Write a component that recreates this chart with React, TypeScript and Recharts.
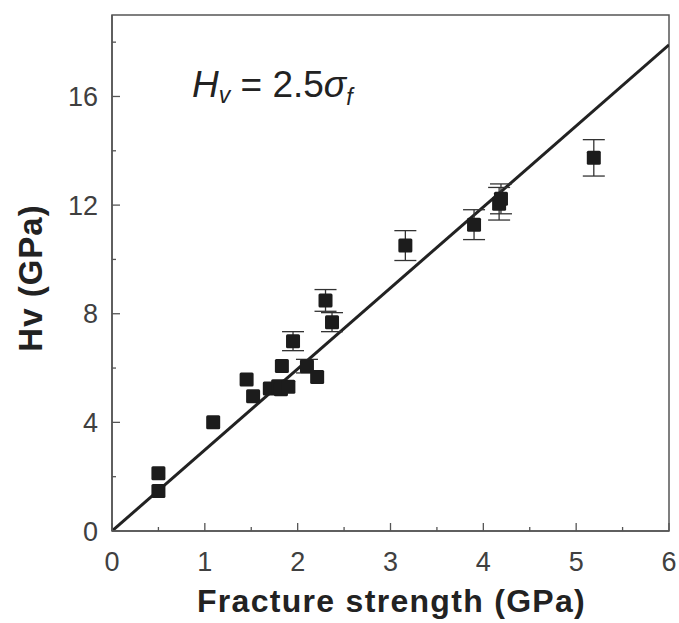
import React from "react"
import {
    ScatterChart,
    Scatter,
    XAxis,
    YAxis,
    ErrorBar,
    ReferenceLine,
    ReferenceArea,
    Label
} from "recharts"

// valores
const fractureStrength = [0.5, 0.5, 1.09, 1.45, 1.52, 1.7, 1.79, 1.82, 1.9, 1.83, 1.95, 2.1, 2.21, 2.3, 2.37, 3.16, 3.9, 4.17, 4.19, 5.19]
const hardness = [2.13, 1.47, 4.0, 5.58, 4.96, 5.25, 5.33, 5.22, 5.31, 6.08, 6.99, 6.07, 5.67, 8.49, 7.69, 10.51, 11.28, 12.05, 12.23, 13.74]
const hardnessErr = [0, 0, 0, 0, 0, 0, 0, 0, 0, 0, 0.35, 0.25, 0, 0.4, 0.35, 0.55, 0.55, 0.6, 0.55, 0.67]

const xTicks = [0, 0.5, 1, 1.5, 2, 2.5, 3, 3.5, 4, 4.5, 5, 5.5, 6]
const yTicks = [0, 2, 4, 6, 8, 10, 12, 14, 16, 18]
const xMajor = [0, 1, 2, 3, 4, 5, 6]
const yMajor = [0, 4, 8, 12, 16]

// reta desenhada na figura
const fitLine = [{ x: 0, y: 0 }, { x: 6, y: 17.9 }]

const dados = fractureStrength.map((x, i) => ({ x, y: hardness[i], err: hardnessErr[i] }))

const FONT = "'Liberation Sans', Arial, sans-serif"
const AXIS_COLOR = "#555"
const TEXT_COLOR = "#404040"

function XTick(props: any) {
    const { x, y, payload } = props
    const major = xMajor.includes(payload.value)
    return (
        <g>
            <line x1={x} x2={x} y1={y} y2={y - (major ? 8 : 4)} stroke={AXIS_COLOR} strokeWidth={1.3} />
            {major && (
                <text x={x} y={y + 40} textAnchor="middle" fontSize={27} fontFamily={FONT} fill={TEXT_COLOR}>
                    {payload.value}
                </text>
            )}
        </g>
    )
}

function YTick(props: any) {
    const { x, y, payload } = props
    const major = yMajor.includes(payload.value)
    return (
        <g>
            <line x1={x} x2={x + (major ? 8 : 4)} y1={y} y2={y} stroke={AXIS_COLOR} strokeWidth={1.3} />
            {major && (
                <text x={x - 14} y={y} dy="0.36em" textAnchor="end" fontSize={27} fontFamily={FONT} fill={TEXT_COLOR}>
                    {payload.value}
                </text>
            )}
        </g>
    )
}

function Marcador(props: any) {
    const { cx, cy } = props
    return <rect x={cx - 7} y={cy - 7} width={14} height={14} rx={1.5} fill="#1c1c1c" />
}

export default function App() {
    return (
        <div style={{ position: "relative", width: 679, height: 623 }}>
            <style>{"body { margin: 0; }"}</style>
            <ScatterChart width={679} height={623} margin={{ top: 15, right: 10, left: 0, bottom: 0 }}>
                <XAxis
                    type="number"
                    dataKey="x"
                    domain={[0, 6]}
                    ticks={xTicks}
                    interval={0}
                    height={92}
                    tickSize={0}
                    tickMargin={0}
                    tickLine={false}
                    tick={<XTick />}
                    axisLine={{ stroke: AXIS_COLOR, strokeWidth: 1.5 }}
                >
                    <Label
                        content={(p: any) => (
                            <text
                                x={p.viewBox.x + p.viewBox.width / 2 + 1}
                                y={612}
                                textAnchor="middle"
                                fontSize={32}
                                fontWeight="bold"
                                letterSpacing={1.3}
                                fontFamily={FONT}
                                fill="#222"
                            >
                                Fracture strength (GPa)
                            </text>
                        )}
                    />
                </XAxis>
                <YAxis
                    type="number"
                    dataKey="y"
                    domain={[0, 19]}
                    ticks={yTicks}
                    interval={0}
                    width={112}
                    tickSize={0}
                    tickMargin={0}
                    tickLine={false}
                    tick={<YTick />}
                    axisLine={{ stroke: AXIS_COLOR, strokeWidth: 1.5 }}
                >
                    <Label
                        content={(p: any) => {
                            const cy = p.viewBox.y + p.viewBox.height / 2 + 5
                            return (
                                <text
                                    x={42}
                                    y={cy}
                                    transform={`rotate(-90 42 ${cy})`}
                                    textAnchor="middle"
                                    fontSize={33}
                                    fontWeight="bold"
                                    letterSpacing={1}
                                    fontFamily={FONT}
                                    fill="#222"
                                >
                                    Hv (GPa)
                                </text>
                            )
                        }}
                    />
                </YAxis>

                {/* moldura */}
                <ReferenceArea x1={0} x2={6} y1={0} y2={19} fill="none" stroke={AXIS_COLOR} strokeWidth={1.5} ifOverflow="visible" />

                <ReferenceLine segment={fitLine} stroke="#222" strokeWidth={3} ifOverflow="hidden" />

                <Scatter data={dados} shape={<Marcador />} isAnimationActive={false}>
                    <ErrorBar dataKey="err" direction="y" width={11} stroke="#333" strokeWidth={1.3} />
                </Scatter>
            </ScatterChart>

            {/* anotação da equação */}
            <svg width={679} height={623} style={{ position: "absolute", left: 0, top: 0, pointerEvents: "none" }}>
                <text x={192} y={97} fontSize={37} fontFamily={FONT} fill="#222">
                    <tspan fontStyle="italic">H</tspan>
                    <tspan fontSize={23} fontStyle="italic" dy={6}>v</tspan>
                    <tspan dy={-6}> = 2.5</tspan>
                    <tspan fontStyle="italic">σ</tspan>
                    <tspan fontSize={23} fontStyle="italic" dy={8}>f</tspan>
                </text>
            </svg>
        </div>
    )
}
